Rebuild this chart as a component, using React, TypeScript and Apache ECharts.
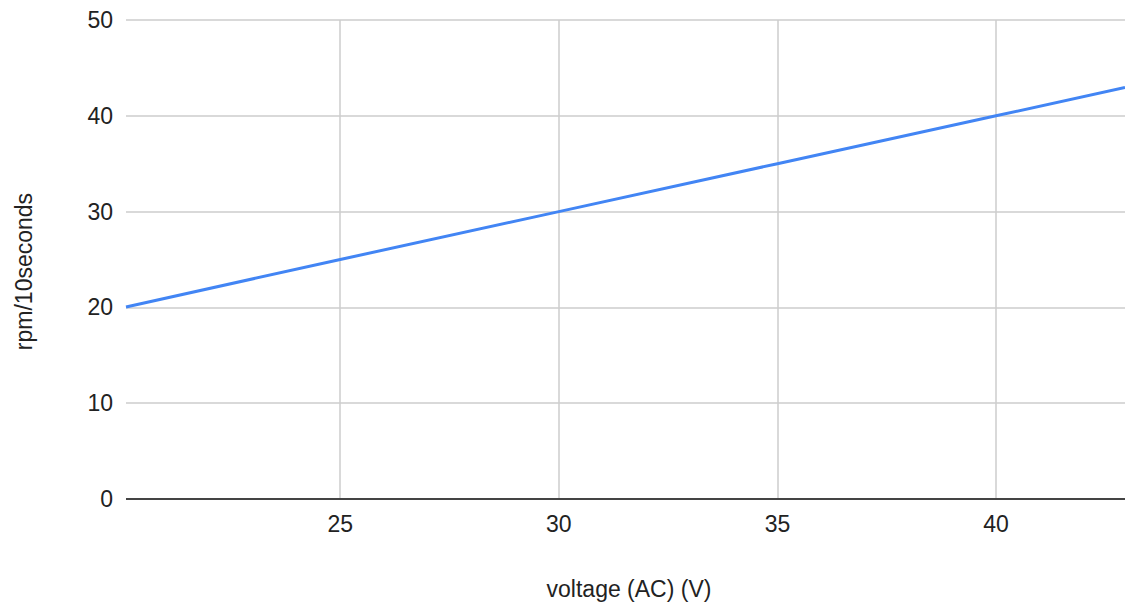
import React, { useEffect, useRef } from "react";
import * as echarts from "echarts";

const voltage = [20.1, 25, 30, 35, 40, 42.95];
const rpm = [20.05, 25, 30, 35, 40, 42.95];
const xTicks = [25, 30, 35, 40];
const yTicks = [0, 10, 20, 30, 40, 50];

export default function App() {
  const ref = useRef<HTMLDivElement>(null);
  useEffect(() => {
    const chart = echarts.init(ref.current!, null, { renderer: "svg" });
    const font = "'Liberation Sans', Arial, sans-serif";
    const fs = 23;
    chart.setOption({
      animation: false,
      grid: { left: 126, right: 0, top: 20, bottom: 106, containLabel: false },
      xAxis: {
        type: "value",
        min: voltage[0],
        max: voltage[voltage.length - 1],
        name: "voltage (AC) (V)",
        nameLocation: "middle",
        nameGap: 78,
        nameTextStyle: { color: "#222", fontSize: fs, fontFamily: font, padding: [0, 0, 0, 7] },
        axisLine: { show: false },
        axisTick: { show: false, customValues: xTicks },
        axisLabel: {
          customValues: xTicks,
          color: "#222",
          fontSize: fs,
          fontFamily: font,
          margin: 13,
        },
        splitLine: { show: true, lineStyle: { color: "#cccccc", width: 1.5 } },
      },
      yAxis: {
        type: "value",
        min: yTicks[0],
        max: yTicks[yTicks.length - 1],
        interval: 10,
        name: "rpm/10seconds",
        nameLocation: "middle",
        nameGap: 91,
        nameTextStyle: { color: "#222", fontSize: fs, fontFamily: font, padding: [0, 24, 0, 0] },
        axisLine: { show: false },
        axisTick: { show: false },
        axisLabel: { color: "#222", fontSize: fs, fontFamily: font, margin: 13 },
        splitLine: { show: true, lineStyle: { color: "#cccccc", width: 1.5 } },
      },
      series: [
        {
          type: "line",
          data: voltage.map((v, i) => [v, rpm[i]]),
          showSymbol: false,
          symbol: "none",
          lineStyle: { color: "#4285F4", width: 3 },
          markLine: {
            silent: true,
            symbol: "none",
            label: { show: false },
            lineStyle: { color: "#444", width: 2, type: "solid" },
            data: [{ yAxis: 0 }],
          },
        },
      ],
    });
    return () => chart.dispose();
  }, []);
  return (
    <div
      ref={ref}
      style={{ position: "absolute", left: 0, top: 0, width: 1125, height: 605, background: "#fff" }}
    />
  );
}
